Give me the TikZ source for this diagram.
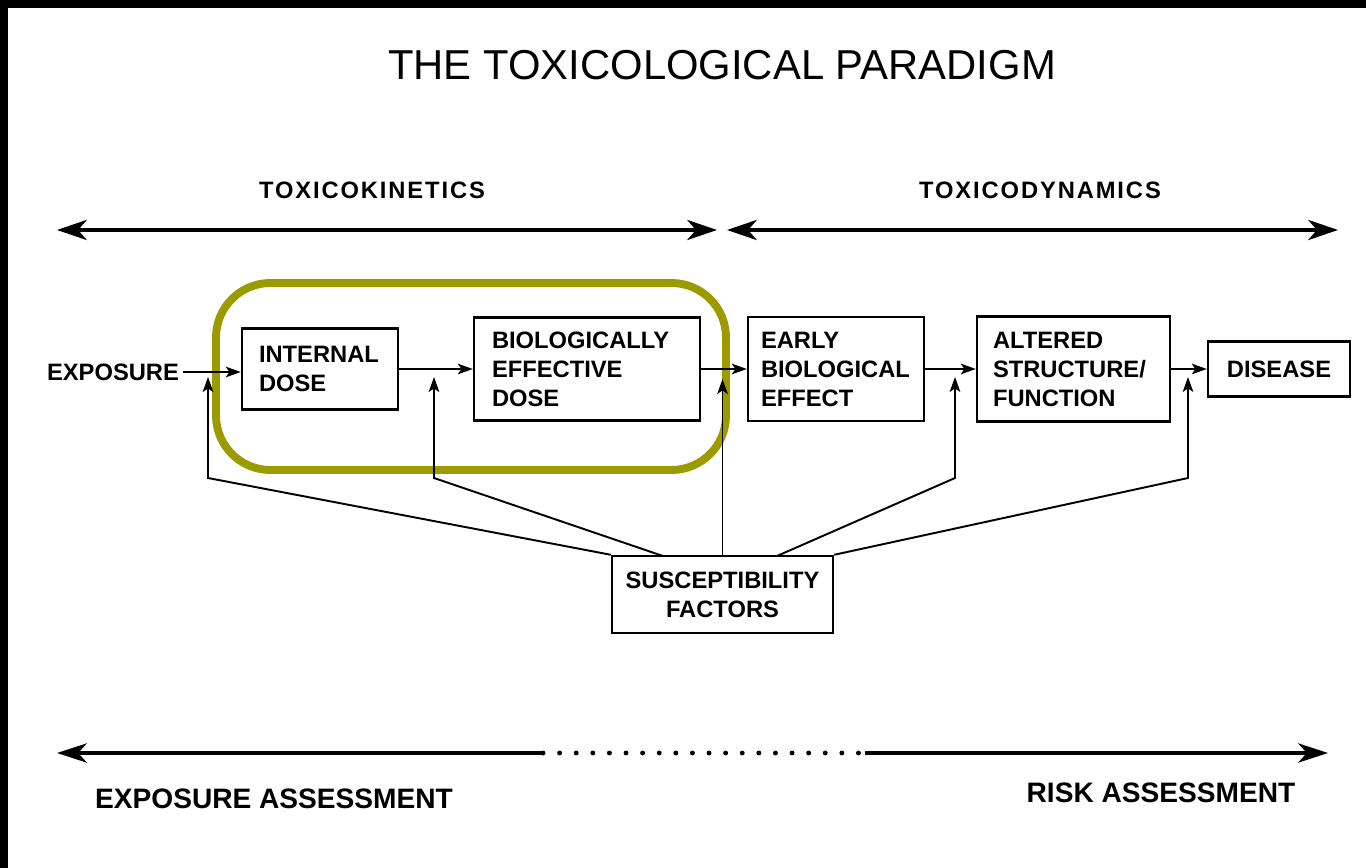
\documentclass[tikz,border=0pt]{standalone}
\usepackage{fontspec}
\setmainfont{Liberation Sans}
\usetikzlibrary{arrows.meta}
\definecolor{olivebox}{RGB}{155,155,0}
\begin{document}
\begin{tikzpicture}[x=0.02cm,y=-0.02cm,
  boxnode/.style={draw,line width=1.4pt,align=left,inner ysep=0pt,
    font=\bfseries\fontsize{13.5}{16.5}\selectfont},
  lbl/.style={inner sep=2pt,font=\bfseries\fontsize{13.5}{16.5}\selectfont},
  hdr/.style={inner sep=0pt,font=\bfseries\fontsize{13.5}{16.5}\selectfont\addfontfeature{LetterSpace=8}},
  btm/.style={inner sep=0pt,font=\bfseries\fontsize{16}{19}\selectfont},
  conn/.style={line width=1.1pt,-{Stealth[length=8.5pt,width=6pt,inset=2pt]}},
  bigarr/.style={line width=1.8pt,{Stealth[length=17pt,width=11.5pt,inset=5pt]}-{Stealth[length=17pt,width=11.5pt,inset=5pt]}},
  bigr/.style={line width=1.8pt,-{Stealth[length=17pt,width=11pt,inset=5pt]}},
  bigl/.style={line width=1.8pt,{Stealth[length=17pt,width=11pt,inset=5pt]}-},
  dots/.style={line width=2.8pt,line cap=round,dash pattern=on 0pt off 9.45pt}
]
\useasboundingbox (0,0) rectangle (1366,868);
\fill[white] (0,0) rectangle (1366,868);
\fill[black] (0,0) rectangle (1366,8);
\fill[black] (0,0) rectangle (8,868);

% title and headers
\node[inner sep=0pt,font=\fontsize{23.8}{28}\selectfont] (title) at (722,65) {THE TOXICOLOGICAL PARADIGM};
\node[hdr] (tk) at (372,190) {TOXICOKINETICS};
\node[hdr] (td) at (1040,190) {TOXICODYNAMICS};

\coordinate (a1) at (57,230);
\coordinate (a2) at (717,230);
\coordinate (a3) at (727,230);
\coordinate (a4) at (1338,230);
\draw[bigarr] (a1) -- (a2);
\draw[bigarr] (a3) -- (a4);

% highlight
\draw[olivebox,line width=4.5pt,rounded corners=31] (216,283) rectangle (726,470);

% boxes
\node[lbl] (exp) at (113,372) {EXPOSURE};
\node[boxnode,text width=2.44cm,inner xsep=0.34cm,minimum width=3.12cm,minimum height=1.62cm] (ind) at (320,369) {INTERNAL\\DOSE};
\node[boxnode,text width=3.8cm,inner xsep=0.36cm,minimum width=4.52cm,minimum height=2.06cm] (bed) at (587,369) {BIOLOGICALLY\\EFFECTIVE\\DOSE};
\node[boxnode,text width=3.0cm,inner xsep=0.26cm,minimum width=3.52cm,minimum height=2.08cm] (ebe) at (836,369) {EARLY\\BIOLOGICAL\\EFFECT};
\node[boxnode,text width=3.22cm,inner xsep=0.32cm,minimum width=3.86cm,minimum height=2.10cm] (asf) at (1073.5,369) {ALTERED\\STRUCTURE/\\FUNCTION};
\node[boxnode,minimum width=2.84cm,minimum height=1.10cm] (dis) at (1279,369) {DISEASE};
\node[boxnode,align=center,minimum width=4.42cm,minimum height=1.54cm] (sf) at (722.5,594.5) {SUSCEPTIBILITY\\FACTORS};

\draw[conn] (exp.east) -- (exp.east -| ind.west);
\draw[conn] (ind.east) -- (bed.west);
\draw[conn] (bed.east) -- (ebe.west);
\draw[conn] (ebe.east) -- (asf.west);
\draw[conn] (asf.east) -- (dis.west);

% susceptibility connectors
\coordinate (k1) at (208,478); \coordinate (t1) at (208,377);
\coordinate (s2) at (663,556); \coordinate (k2) at (434,478); \coordinate (t2) at (434,377);
\coordinate (t3) at (722.5,379);
\coordinate (s4) at (777,556); \coordinate (k4) at (955,478); \coordinate (t4) at (955,377);
\coordinate (k5) at (1188,478); \coordinate (t5) at (1188,377);
\draw[conn] (sf.north west) -- (k1) -- (t1);
\draw[conn] (s2) -- (k2) -- (t2);
\draw[conn] (sf.north) -- (t3);
\draw[conn] (s4) -- (k4) -- (t4);
\draw[conn] (sf.north east) -- (k5) -- (t5);

% bottom
\coordinate (b1) at (57,753);
\coordinate (b2) at (543,753);
\coordinate (b3) at (865,753);
\coordinate (b4) at (1328,753);
\draw[bigl] (b1) -- (b2);
\draw[dots] (b2) -- (b3);
\draw[bigr] (b3) -- (b4);
\node[btm] (ea) at (274,799) {EXPOSURE ASSESSMENT};
\node[btm] (ra) at (1161,793) {RISK ASSESSMENT};
\end{tikzpicture}
\end{document}
